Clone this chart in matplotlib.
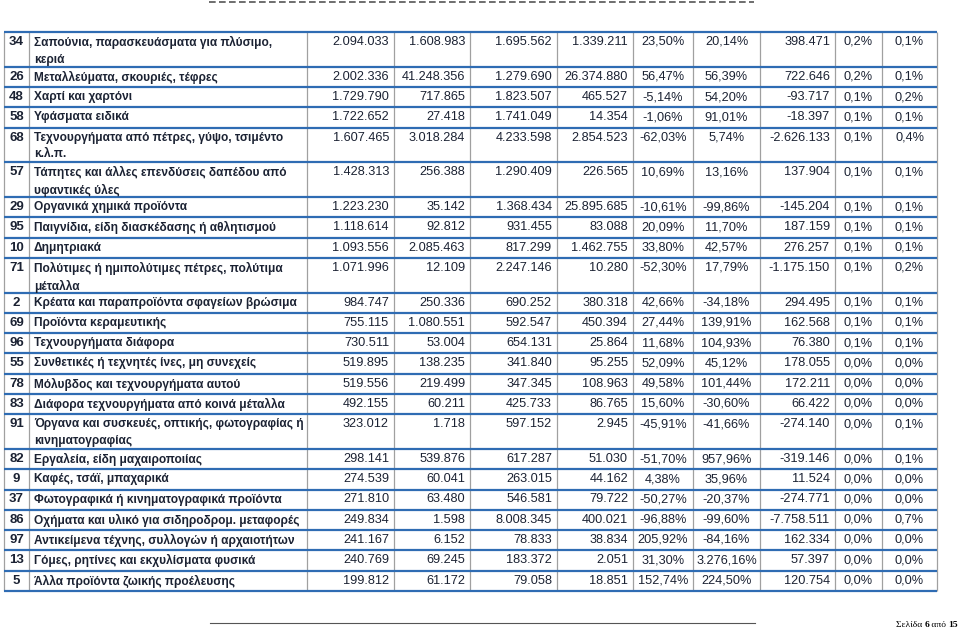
import matplotlib
matplotlib.use('Agg')
import matplotlib.pyplot as plt

plt.rcParams['font.family'] = ['Liberation Sans', 'DejaVu Sans']

# table data
codes = [34, 26, 48, 58, 68, 57, 29, 95, 10, 71, 2, 69, 96, 55, 78, 83, 91,
         82, 9, 37, 86, 97, 13, 5]
names = [
    'Σαπούνια, παρασκευάσματα για πλύσιμο,\nκεριά',
    'Μεταλλεύματα, σκουριές, τέφρες',
    'Χαρτί και χαρτόνι',
    'Υφάσματα ειδικά',
    'Τεχνουργήματα από πέτρες, γύψο, τσιμέντο\nκ.λ.π.',
    'Τάπητες και άλλες επενδύσεις δαπέδου από\nυφαντικές ύλες',
    'Οργανικά χημικά προϊόντα',
    'Παιγνίδια, είδη διασκέδασης ή αθλητισμού',
    'Δημητριακά',
    'Πολύτιμες ή ημιπολύτιμες πέτρες, πολύτιμα\nμέταλλα',
    'Κρέατα και παραπροϊόντα σφαγείων βρώσιμα',
    'Προϊόντα κεραμευτικής',
    'Τεχνουργήματα διάφορα',
    'Συνθετικές ή τεχνητές ίνες, μη συνεχείς',
    'Μόλυβδος και τεχνουργήματα αυτού',
    'Διάφορα τεχνουργήματα από κοινά μέταλλα',
    'Όργανα και συσκευές, οπτικής, φωτογραφίας ή\nκινηματογραφίας',
    'Εργαλεία, είδη μαχαιροποιίας',
    'Καφές, τσάϊ, μπαχαρικά',
    'Φωτογραφικά ή κινηματογραφικά προϊόντα',
    'Οχήματα και υλικό για σιδηροδρομ. μεταφορές',
    'Αντικείμενα τέχνης, συλλογών ή αρχαιοτήτων',
    'Γόμες, ρητίνες και εκχυλίσματα φυσικά',
    'Άλλα προϊόντα ζωικής προέλευσης',
]
val_a = [2094033, 2002336, 1729790, 1722652, 1607465, 1428313, 1223230, 1118614,
         1093556, 1071996, 984747, 755115, 730511, 519895, 519556, 492155, 323012,
         298141, 274539, 271810, 249834, 241167, 240769, 199812]
val_b = [1608983, 41248356, 717865, 27418, 3018284, 256388, 35142, 92812,
         2085463, 12109, 250336, 1080551, 53004, 138235, 219499, 60211, 1718,
         539876, 60041, 63480, 1598, 6152, 69245, 61172]
val_c = [1695562, 1279690, 1823507, 1741049, 4233598, 1290409, 1368434, 931455,
         817299, 2247146, 690252, 592547, 654131, 341840, 347345, 425733, 597152,
         617287, 263015, 546581, 8008345, 78833, 183372, 79058]
val_d = [1339211, 26374880, 465527, 14354, 2854523, 226565, 25895685, 83088,
         1462755, 10280, 380318, 450394, 25864, 95255, 108963, 86765, 2945,
         51030, 44162, 79722, 400021, 38834, 2051, 18851]
chg_a = [23.50, 56.47, -5.14, -1.06, -62.03, 10.69, -10.61, 20.09, 33.80, -52.30,
         42.66, 27.44, 11.68, 52.09, 49.58, 15.60, -45.91, -51.70, 4.38, -50.27,
         -96.88, 205.92, 31.30, 152.74]
chg_b = [20.14, 56.39, 54.20, 91.01, 5.74, 13.16, -99.86, 11.70, 42.57, 17.79,
         -34.18, 139.91, 104.93, 45.12, 101.44, -30.60, -41.66, 957.96, 35.96,
         -20.37, -99.60, -84.16, 3276.16, 224.50]
balance = [398471, 722646, -93717, -18397, -2626133, 137904, -145204, 187159,
           276257, -1175150, 294495, 162568, 76380, 178055, 172211, 66422, -274140,
           -319146, 11524, -274771, -7758511, 162334, 57397, 120754]
share_a = [0.2, 0.2, 0.1, 0.1, 0.1, 0.1, 0.1, 0.1, 0.1, 0.1, 0.1, 0.1, 0.1, 0.0,
           0.0, 0.0, 0.0, 0.0, 0.0, 0.0, 0.0, 0.0, 0.0, 0.0]
share_b = [0.1, 0.1, 0.2, 0.1, 0.4, 0.1, 0.1, 0.1, 0.1, 0.2, 0.1, 0.1, 0.1, 0.0,
           0.0, 0.0, 0.1, 0.1, 0.0, 0.0, 0.7, 0.0, 0.0, 0.0]


def fmt_int(v):
    # greek style thousands separator
    return '{:,}'.format(v).replace(',', '.')


def fmt_pct(v, nd):
    s = '{:,.{}f}'.format(v, nd)
    s = s.replace(',', 'X').replace('.', ',').replace('X', '.')
    return s + '%'


# layout (pixels)
col_edges = [4, 29, 307, 394, 470, 557, 633, 693, 760, 835, 882, 937]
top = 32
single_h = 20.25
double_h = 34.8
text_col = '#1b2233'
blue = '#2f6cb3'
grey = '#a0a0a0'

fig = plt.figure(figsize=(9.6, 6.36), dpi=100)
ax = fig.add_axes([0, 0, 1, 1])
ax.set_xlim(0, 960)
ax.set_ylim(636, 0)
ax.axis('off')

columns = [
    [fmt_int(v) for v in val_a],
    [fmt_int(v) for v in val_b],
    [fmt_int(v) for v in val_c],
    [fmt_int(v) for v in val_d],
    [fmt_pct(v, 2) for v in chg_a],
    [fmt_pct(v, 2) for v in chg_b],
    [fmt_int(v) for v in balance],
    [fmt_pct(v, 1) for v in share_a],
    [fmt_pct(v, 1) for v in share_b],
]
aligns = ['right', 'right', 'right', 'right', 'center', 'center', 'right',
          'center', 'center']

fs_num = 9.2
fs_name = 8.6
y = top
row_tops = [y]
for i in range(len(codes)):
    h = double_h if '\n' in names[i] else single_h
    ty = y + 4
    ax.text((col_edges[0] + col_edges[1]) / 2, ty, str(codes[i]), ha='center',
            va='top', fontsize=9.5, fontweight='bold', color=text_col)
    ax.text(col_edges[1] + 5, ty, names[i], ha='left', va='top', fontsize=fs_name,
            fontweight='bold', color=text_col, linespacing=1.5)
    for j, col in enumerate(columns):
        x0, x1 = col_edges[j + 2], col_edges[j + 3]
        if aligns[j] == 'right':
            x = x1 - 5
        else:
            x = (x0 + x1) / 2
        ax.text(x, ty, col[i], ha=aligns[j], va='top', fontsize=fs_num,
                color=text_col)
    y += h
    row_tops.append(y)

# grid lines
for x in col_edges:
    ax.plot([x, x], [row_tops[0], row_tops[-1]], color=grey, lw=0.9,
            solid_capstyle='butt')
for yy in row_tops:
    ax.plot([col_edges[0], col_edges[-1]], [yy, yy], color=blue, lw=1.6,
            solid_capstyle='butt')

# page decorations
ax.plot([209, 754], [2, 2], color='#555555', lw=1.2, ls=(0, (4, 2)))
ax.plot([210, 755], [623, 623], color='#555555', lw=0.8)
fkw = dict(family='Liberation Serif', fontsize=6.8, color='black')
t4 = ax.text(958, 627, '15', ha='right', va='baseline', fontweight='bold', **fkw)
t3 = ax.annotate(' από ', xy=(0, 0), xycoords=t4, ha='right', va='bottom', **fkw)
t2 = ax.annotate('6', xy=(0, 0), xycoords=t3, ha='right', va='bottom',
                 fontweight='bold', **fkw)
ax.annotate('Σελίδα ', xy=(0, 0), xycoords=t2, ha='right', va='bottom', **fkw)

fig.savefig('out.png', dpi=100)
